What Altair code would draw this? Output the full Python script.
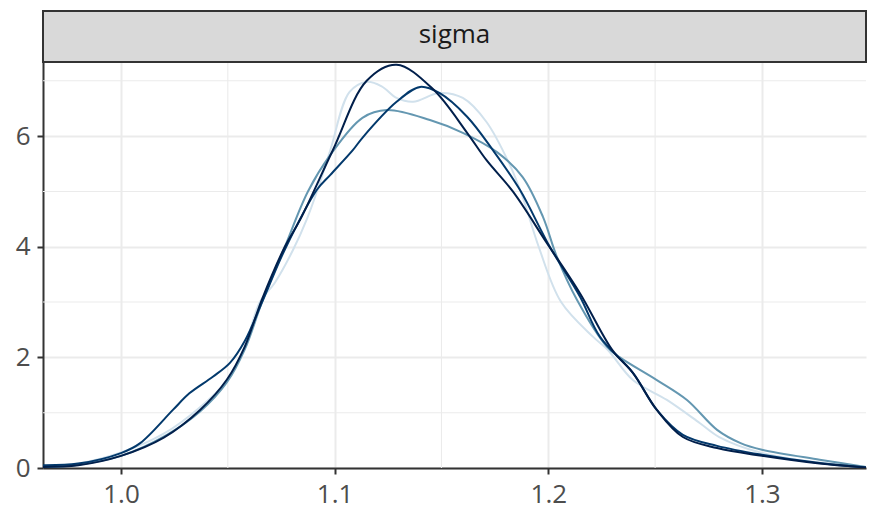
import altair as alt
import pandas as pd

# ---- data (parameter: sigma, 4 chains) ----
chain_names = ["1", "2", "3", "4"]
chain_colors = ["#d1e1ec", "#6497b1", "#03396c", "#011f4b"]

c1_x = [0.9635, 0.98, 1.0, 1.02, 1.037, 1.05, 1.058, 1.065, 1.072, 1.0805, 1.087, 1.092, 1.098,
        1.107, 1.115, 1.122, 1.129, 1.1367, 1.149, 1.160, 1.171, 1.182, 1.188, 1.1955, 1.206,
        1.221, 1.228, 1.2396, 1.2555, 1.271, 1.280, 1.300, 1.32, 1.3487]
c1_y = [0.03, 0.08, 0.28, 0.62, 1.1, 1.6, 2.2, 3.0, 3.35, 3.94, 4.5, 5.03, 5.75,
        6.8, 6.98, 6.9, 6.69, 6.62, 6.78, 6.69, 6.26, 5.48, 4.9, 4.0, 3.0,
        2.37, 2.13, 1.59, 1.23, 0.81, 0.56, 0.27, 0.13, 0.02]

c2_x = [0.9635, 0.98, 1.0, 1.0215, 1.037, 1.0496, 1.058, 1.066, 1.0767, 1.0875, 1.098, 1.113,
        1.1245, 1.1446, 1.160, 1.176, 1.188, 1.1975, 1.204, 1.2134, 1.2275, 1.2335, 1.2508,
        1.2649, 1.279, 1.29, 1.300, 1.327, 1.3487]
c2_y = [0.01, 0.06, 0.22, 0.6, 1.02, 1.55, 2.15, 3.0, 4.0, 5.0, 5.66, 6.33,
        6.47, 6.29, 6.06, 5.71, 5.26, 4.54, 3.82, 3.04, 2.19, 2.0, 1.59,
        1.23, 0.69, 0.45, 0.33, 0.15, 0.02]

c3_x = [0.9635, 0.98, 1.0, 1.009, 1.0243, 1.032, 1.043, 1.051, 1.058, 1.0665, 1.0767, 1.0917,
        1.098, 1.1086, 1.113, 1.129, 1.14, 1.149, 1.162, 1.174, 1.1867, 1.2007, 1.2148, 1.2242,
        1.2396, 1.2508, 1.263, 1.279, 1.300, 1.327, 1.3487]
c3_y = [0.05, 0.08, 0.27, 0.45, 1.05, 1.35, 1.65, 1.9, 2.3, 3.04, 3.95, 5.03,
        5.3, 5.75, 5.97, 6.62, 6.89, 6.78, 6.35, 5.75, 5.03, 4.0, 3.1, 2.37,
        1.72, 1.05, 0.6, 0.4, 0.24, 0.09, 0.01]

c4_x = [0.9635, 0.98, 1.0, 1.02, 1.037, 1.0496, 1.058, 1.066, 1.0767, 1.084, 1.0992, 1.115,
        1.129, 1.146, 1.162, 1.171, 1.1834, 1.1993, 1.2148, 1.230, 1.2396, 1.2508,
        1.263, 1.279, 1.300, 1.327, 1.3487]
c4_y = [0.02, 0.05, 0.22, 0.55, 1.05, 1.6, 2.2, 3.05, 4.0, 4.5, 5.75, 7.0,
        7.29, 6.85, 6.06, 5.57, 5.0, 4.07, 3.16, 2.13, 1.72, 1.05,
        0.56, 0.36, 0.22, 0.08, 0.01]

x_ticks = [1.0, 1.1, 1.2, 1.3]
y_ticks = [0, 2, 4, 6]
x_minor = [1.05, 1.15, 1.25]
y_minor = [1, 3, 5, 7]
x_domain = [0.9635, 1.3487]
y_domain = [0, 7.34]
strip_label = "sigma"

FONT = "Open Sans"
W, H = 823, 406

rows = []
for name, xs, ys in zip(chain_names, [c1_x, c2_x, c3_x, c4_x], [c1_y, c2_y, c3_y, c4_y]):
    for i, (a, b) in enumerate(zip(xs, ys)):
        rows.append({"chain": name, "value": a, "density": b, "order": i})
df = pd.DataFrame(rows)

xscale = alt.Scale(domain=x_domain, nice=False, zero=False)
yscale = alt.Scale(domain=y_domain, nice=False, zero=False)

minor_v = alt.Chart(pd.DataFrame({"v": x_minor})).mark_rule(
    color="#ebebeb", strokeWidth=1.1
).encode(x=alt.X("v:Q", scale=xscale))
minor_h = alt.Chart(pd.DataFrame({"d": y_minor})).mark_rule(
    color="#ebebeb", strokeWidth=1.1
).encode(y=alt.Y("d:Q", scale=yscale))

lines = alt.Chart(df).mark_line(strokeWidth=2, interpolate="catmull-rom", clip=True).encode(
    x=alt.X(
        "value:Q", scale=xscale, title=None,
        axis=alt.Axis(values=x_ticks, format=".1f", grid=True, gridColor="#ebebeb", gridWidth=2,
                      domainColor="#333333", domainWidth=2, tickColor="#333333", tickWidth=2,
                      tickSize=6, labelFontSize=26, labelColor="#4d4d4d", labelFont=FONT,
                      labelPadding=7, labelFlush=False),
    ),
    y=alt.Y(
        "density:Q", scale=yscale, title=None,
        axis=alt.Axis(values=y_ticks, format="d", grid=True, gridColor="#ebebeb", gridWidth=2,
                      domainColor="#333333", domainWidth=2, tickColor="#333333", tickWidth=2,
                      tickSize=6, labelFontSize=26, labelColor="#4d4d4d", labelFont=FONT,
                      labelPadding=7, labelFlush=False),
    ),
    color=alt.Color("chain:N", scale=alt.Scale(domain=chain_names, range=chain_colors), legend=None),
    order=alt.Order("order:Q"),
    detail="chain:N",
)

strip = alt.Chart(pd.DataFrame({"t": [strip_label]})).mark_rect(
    fill="#d9d9d9", stroke="#333333", strokeWidth=2, clip=False
).encode(x=alt.value(0), x2=alt.value(W), y=alt.value(-51), y2=alt.value(0))

strip_text = alt.Chart(pd.DataFrame({"t": [strip_label]})).mark_text(
    font=FONT, fontSize=26, color="#1a1a1a", baseline="middle", align="center", clip=False
).encode(x=alt.value(W / 2), y=alt.value(-27), text="t:N")

chart = alt.layer(minor_v, minor_h, lines, strip, strip_text).properties(
    width=W, height=H,
    autosize=alt.AutoSizeParams(type="none"),
    padding={"left": 43, "top": 62, "right": 4, "bottom": 42},
    background="white",
).configure_view(stroke=None)

chart.save("out.html", embed_options={"renderer": "svg", "actions": False})
